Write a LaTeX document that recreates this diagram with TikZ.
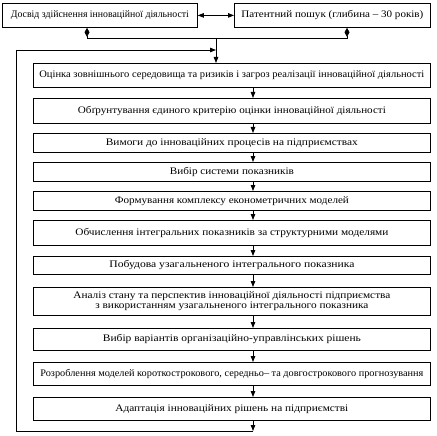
\documentclass[tikz,border=0pt]{standalone}
\usepackage{fontspec}
\setmainfont{Liberation Serif}
\usepackage{graphicx}
\usetikzlibrary{arrows.meta}
\newcommand\fw[2]{\resizebox{#1pt}{\height}{#2}}
\begin{document}
\begin{tikzpicture}[x=1pt,y=-1pt,
  box/.style={draw,line width=0.8pt,inner sep=0pt,anchor=north west,align=center},
  ln/.style={line width=0.8pt},
  arr/.style={line width=0.8pt,-{Triangle[length=6pt,width=4.5pt]}},
  font=\fontsize{10}{12}\selectfont]
\useasboundingbox (0,0) rectangle (437,436);
% top boxes
\node[box,minimum width=195pt,minimum height=24pt] (L) at (2,3) {\fw{178}{Досвід здійснення інноваційної діяльності}};
\node[box,minimum width=196pt,minimum height=24pt] (R) at (234,3) {\fw{182}{Патентний пошук (глибина – 30 років)}};
% main boxes
\node[box,minimum width=397pt,minimum height=24pt] (b1) at (33,63) {\fw{385}{Оцінка зовнішнього середовища та ризиків і загроз реалізації інноваційної діяльності}};
\node[box,minimum width=397pt,minimum height=25pt] (b2) at (33,98) {\fw{308}{Обґрунтування єдиного критерію оцінки інноваційної діяльності}};
\node[box,minimum width=397pt,minimum height=19pt] (b3) at (33,133) {\fw{252}{Вимоги до інноваційних процесів на підприємствах}};
\node[box,minimum width=397pt,minimum height=19pt] (b4) at (33,162) {\fw{124}{Вибір системи показників}};
\node[box,minimum width=397pt,minimum height=19pt] (b5) at (33,191) {\fw{234}{Формування комплексу економетричних моделей}};
\node[box,minimum width=397pt,minimum height=25pt] (b6) at (33,220) {\fw{313}{Обчислення інтегральних показників за структурними моделями}};
\node[box,minimum width=397pt,minimum height=18pt] (b7) at (33,256) {\fw{245}{Побудова узагальненого інтегрального показника}};
\node[box,minimum width=397pt,minimum height=28pt] (b8) at (33,287) {\fw{317}{Аналіз стану та перспектив інноваційної діяльності підприємства}\\[-1.5pt]\fw{273}{з використанням узагальненого інтегрального показника}};
\node[box,minimum width=397pt,minimum height=22pt] (b9) at (33,328) {\fw{258}{Вибір варіантів організаційно-управлінських рішень}};
\node[box,minimum width=397pt,minimum height=23pt] (b10) at (33,362) {\fw{383}{Розроблення моделей короткострокового, середньо– та довгострокового прогнозування}};
\node[box,minimum width=397pt,minimum height=23pt] (b11) at (33,397) {\fw{233}{Адаптація інноваційних рішень на підприємстві}};
% helper coordinates
\coordinate (ax) at (253,0);
\coordinate (dl) at (87,0);
\coordinate (dr) at (347,0);
\coordinate (j) at (216,38);
\coordinate (ft) at (16,50);
\coordinate (fl) at (16,431);
\coordinate (fb) at (253,431);
% top connectors
\draw[ln,{Triangle[length=6pt,width=4.5pt]}-{Triangle[length=6pt,width=4.5pt]}] (R.west) -- (L.east);
\draw[ln,{Diamond[length=9pt,width=5pt]}-{Diamond[length=9pt,width=5pt]}] (L.south -| dl) -- (dl |- j) -- (dr |- j) -- (R.south -| dr);
\draw[arr] (j) -- (b1.north -| j);
% chain
\draw[arr] (b1.south -| ax) -- (b2.north -| ax);
\draw[arr] (b2.south -| ax) -- (b3.north -| ax);
\draw[arr] (b3.south -| ax) -- (b4.north -| ax);
\draw[arr] (b4.south -| ax) -- (b5.north -| ax);
\draw[arr] (b5.south -| ax) -- (b6.north -| ax);
\draw[arr] (b6.south -| ax) -- (b7.north -| ax);
\draw[arr] (b7.south -| ax) -- (b8.north -| ax);
\draw[arr] (b8.south -| ax) -- (b9.north -| ax);
\draw[arr] (b9.south -| ax) -- (b10.north -| ax);
\draw[arr] (b10.south -| ax) -- (b11.north -| ax);
% feedback loop
\draw[arr] (b11.south -| ax) -- (fb);
\draw[arr] (fb) -- (fl) -- (ft) -- (j |- ft);
\end{tikzpicture}
\end{document}
